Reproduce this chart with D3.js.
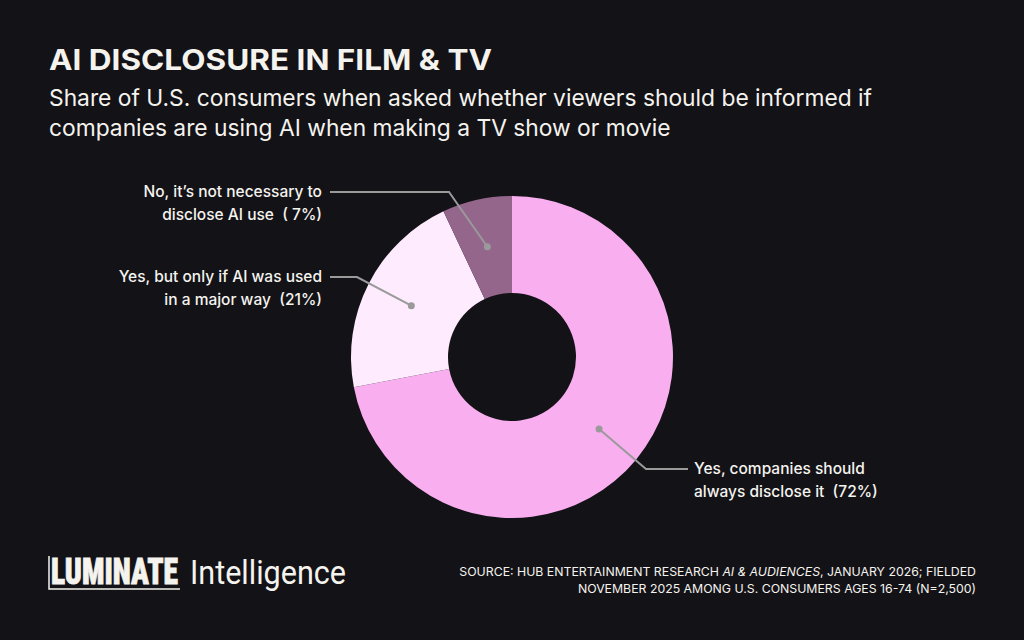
<!DOCTYPE html>
<html><head><meta charset="utf-8">
<script src="https://cdn.jsdelivr.net/npm/d3@7"></script>
<style>body{margin:0;background:#131217;}svg{display:block;font-family:Inter,'Noto Sans',sans-serif;}text{white-space:pre;}</style>
</head><body><svg id="c" width="1024" height="640"></svg>
<script>
const categories = ["Yes, companies should|always disclose it  (72%)", "Yes, but only if AI was used|in a major way  (21%)", "No, it’s not necessary to|disclose AI use  ( 7%)"];
const values = [72, 21, 7];
const colors = ["#F9AEF0", "#FEEBFD", "#94668C"];
const labelAnchors = [[646,469,688,"start",694],[357,277,330,"end",322],[449,192,330,"end",322]];

const svg = d3.select("#c");
svg.append("rect").attr("width",1024).attr("height",640).attr("fill","#131217");
const fg="#F5F3EE";
svg.append("text").attr("x",49).attr("y",70).attr("fill",fg).attr("font-size",29).attr("font-weight",700).attr("textLength",443).attr("lengthAdjust","spacingAndGlyphs").text("AI DISCLOSURE IN FILM & TV");
svg.append("text").attr("x",49).attr("y",106).attr("fill",fg).attr("font-size",22.8).text("Share of U.S. consumers when asked whether viewers should be informed if");
svg.append("text").attr("x",49).attr("y",136).attr("fill",fg).attr("font-size",22.8).text("companies are using AI when making a TV show or movie");

const cx=512, cy=357;
const g = svg.append("g").attr("transform",`translate(${cx},${cy})`);
const pie = d3.pie().sort(null).value(d=>d)(values);
const arc = d3.arc().innerRadius(64).outerRadius(161);
const dotArc = d3.arc().innerRadius(113).outerRadius(113);
g.selectAll("path").data(pie).join("path").attr("d",arc).attr("fill",(d,i)=>colors[i]);

pie.forEach((d,i)=>{
  const [px,py]=dotArc.centroid(d);
  const [bx,by,ex,anchor,tx]=labelAnchors[i];
  svg.append("polyline").attr("points",`${px+cx},${py+cy} ${bx},${by} ${ex},${by}`).attr("fill","none").attr("stroke","#9a9a9a").attr("stroke-width",2);
  svg.append("circle").attr("cx",px+cx).attr("cy",py+cy).attr("r",3.5).attr("fill","#9a9a9a");
  const lines=categories[i].split("|");
  lines.forEach((l,j)=>svg.append("text").attr("x",tx).attr("y",by+5+j*23).attr("text-anchor",anchor).attr("fill",fg).attr("font-size",15.5).attr("font-weight",500).text(l));
});

// logo
svg.append("text").attr("x",51).attr("y",584).attr("fill",fg).attr("font-size",36).attr("font-weight",900).attr("font-family","'Roboto Condensed','Liberation Sans Narrow',Roboto,sans-serif").attr("textLength",127).attr("lengthAdjust","spacingAndGlyphs").attr("stroke",fg).attr("stroke-width",0.8).text("LUMINATE");
svg.append("polyline").attr("points","49,556 49,589 180,589").attr("fill","none").attr("stroke",fg).attr("stroke-width",1.5);
svg.append("text").attr("x",190).attr("y",584).attr("fill",fg).attr("font-size",34).attr("font-family","Roboto,sans-serif").attr("textLength",156).attr("lengthAdjust","spacingAndGlyphs").text("Intelligence");

const s1 = svg.append("text").attr("x",976).attr("y",576).attr("text-anchor","end").attr("fill",fg).attr("font-size",12.3);
s1.append("tspan").text("SOURCE: HUB ENTERTAINMENT RESEARCH ");
s1.append("tspan").attr("font-style","italic").text("AI & AUDIENCES");
s1.append("tspan").text(", JANUARY 2026; FIELDED");
svg.append("text").attr("x",976).attr("y",593).attr("text-anchor","end").attr("fill",fg).attr("font-size",12.3).text("NOVEMBER 2025 AMONG U.S. CONSUMERS AGES 16-74 (N=2,500)");
</script></body></html>
